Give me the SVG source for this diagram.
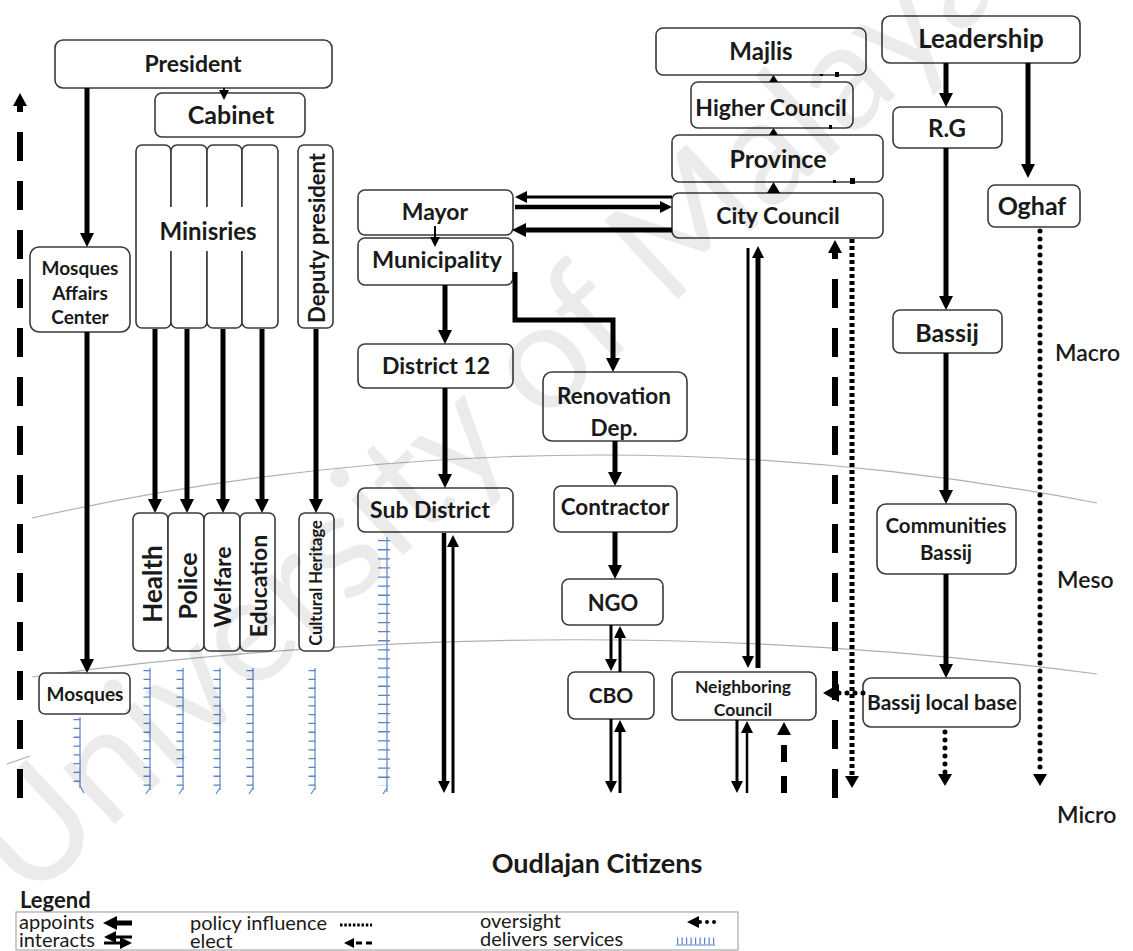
<svg xmlns="http://www.w3.org/2000/svg" width="1133" height="951" viewBox="0 0 1133 951">
  <style>
    .box{fill:#fff;stroke:#3a3a3a;stroke-width:1.6}
    .t{font-family:Lato,"Open Sans","DejaVu Sans",sans-serif;font-weight:700;fill:#1a1a1a;text-anchor:middle;dominant-baseline:central}
    .lvl{font-family:Lato,"Open Sans",sans-serif;font-weight:600;fill:#1a1a1a;font-size:23px}
    .lg{font-family:Lato,"Open Sans",sans-serif;font-weight:400;fill:#1a1a1a;font-size:20px}
    .band{fill:none;stroke:#b0b0b0;stroke-width:1.2}
    .appoint{stroke:#000;stroke-width:5;fill:none}
    .thin{stroke:#000;stroke-width:2;fill:none}
    .inter{stroke:#000;fill:none}
    .elect{stroke:#000;stroke-width:6;fill:none;stroke-dasharray:29 20}
    .policy{stroke:#000;stroke-width:5;fill:none;stroke-dasharray:4 3}
    .over{stroke:#000;stroke-width:5;fill:none;stroke-dasharray:0 8;stroke-linecap:round}
    .svc{stroke:#5a84c8;fill:none}
    .wm{font-family:Lato,"Open Sans",sans-serif;font-weight:400;font-size:150px;fill:#000;fill-opacity:0.08}
  </style>
  <defs>
    <marker id="mA" markerUnits="userSpaceOnUse" markerWidth="14" markerHeight="14" refX="6" refY="7" orient="auto-start-reverse">
      <path d="M0,0 L14,7 L0,14 z" fill="#000"/>
    </marker>
    <marker id="mS" markerUnits="userSpaceOnUse" markerWidth="10" markerHeight="10" refX="4" refY="5" orient="auto-start-reverse">
      <path d="M0,0 L10,5 L0,10 z" fill="#000"/>
    </marker>
    <marker id="mM" markerUnits="userSpaceOnUse" markerWidth="12" markerHeight="12" refX="5" refY="6" orient="auto-start-reverse">
      <path d="M0,0 L12,6 L0,12 z" fill="#000"/>
    </marker>
    <marker id="mE" markerUnits="userSpaceOnUse" markerWidth="13" markerHeight="14" refX="3" refY="7" orient="auto-start-reverse">
      <path d="M0,0 L13,7 L0,14 z" fill="#000"/>
    </marker>
    <marker id="mD" markerUnits="userSpaceOnUse" markerWidth="12" markerHeight="14" refX="1" refY="7" orient="auto-start-reverse">
      <path d="M0,0 L12,7 L0,14 z" fill="#000"/>
    </marker>
    <marker id="mO" markerUnits="userSpaceOnUse" markerWidth="16" markerHeight="18" refX="1" refY="9" orient="auto-start-reverse">
      <path d="M0,0 L16,9 L0,18 z" fill="#000"/>
    </marker>
  </defs>

  <rect width="1133" height="951" fill="#fff"/>

  <!-- level bands -->
  <g id="bands">
    <path class="band" d="M32,518 Q560,400 1097,503"/>
    <path class="band" d="M32,677 Q565,604 1097,674"/>
    <path class="band" d="M7,764 L30,756"/>
    <text class="lvl" x="1055" y="361">Macro</text>
    <text class="lvl" x="1057" y="588">Meso</text>
    <text class="lvl" x="1057" y="823">Micro</text>
  </g>

  <!-- national government -->
  <g id="president"><rect class="box" x="55" y="40" width="277" height="48" rx="8"/><text class="t" x="193" y="63" font-size="23">President</text></g>
  <g id="cabinet"><rect class="box" x="155" y="93" width="150" height="44" rx="7"/><text class="t" x="231" y="114" font-size="25">Cabinet</text></g>
  <g id="ministries">
    <rect class="box" x="136" y="145" width="35" height="183" rx="6"/>
    <rect class="box" x="171" y="145" width="36" height="183" rx="6"/>
    <rect class="box" x="207" y="145" width="35" height="183" rx="6"/>
    <rect class="box" x="242" y="145" width="36" height="183" rx="6"/>
    <rect x="140" y="207" width="134" height="44" fill="#fff"/>
    <text class="t" x="208" y="230" font-size="24">Minisries</text>
  </g>
  <g id="deputy-president"><rect class="box" x="298" y="145" width="35" height="183" rx="6"/><text class="t" transform="translate(316,238) rotate(-90)" font-size="22">Deputy president</text></g>
  <g id="mosques-affairs-center"><rect class="box" x="30" y="247" width="100" height="85" rx="9"/>
    <text class="t" x="80" y="267" font-size="19">Mosques</text>
    <text class="t" x="80" y="292" font-size="19">Affairs</text>
    <text class="t" x="80" y="316" font-size="19">Center</text>
  </g>
  <g id="health"><rect class="box" x="133" y="513" width="35" height="138" rx="6"/><text class="t" transform="translate(152,584) rotate(-90)" font-size="26">Health</text></g>
  <g id="police"><rect class="box" x="168" y="513" width="36" height="138" rx="6"/><text class="t" transform="translate(187,586) rotate(-90)" font-size="25">Police</text></g>
  <g id="welfare"><rect class="box" x="204" y="513" width="36" height="138" rx="6"/><text class="t" transform="translate(222,587) rotate(-90)" font-size="23">Welfare</text></g>
  <g id="education"><rect class="box" x="240" y="513" width="35" height="138" rx="6"/><text class="t" transform="translate(258,586) rotate(-90)" font-size="23">Education</text></g>
  <g id="cultural-heritage"><rect class="box" x="299" y="513" width="35" height="138" rx="6"/><text class="t" transform="translate(316,583) rotate(-90)" font-size="16.5">Cultural Heritage</text></g>
  <g id="mosques"><rect class="box" x="39" y="673" width="91" height="41" rx="6"/><text class="t" x="85" y="693" font-size="19">Mosques</text></g>

  <!-- municipal chain -->
  <g id="mayor"><rect class="box" x="358" y="190" width="155" height="45" rx="7"/><text class="t" x="435" y="211" font-size="23">Mayor</text></g>
  <g id="municipality"><rect class="box" x="358" y="238" width="155" height="47" rx="7"/><text class="t" x="437" y="259" font-size="23.5">Municipality</text></g>
  <g id="district-12"><rect class="box" x="358" y="344" width="155" height="44" rx="7"/><text class="t" x="436" y="365" font-size="23">District 12</text></g>
  <g id="sub-district"><rect class="box" x="358" y="488" width="155" height="44" rx="7"/><text class="t" x="430" y="509" font-size="23">Sub District</text></g>
  <g id="renovation-dep"><rect class="box" x="543" y="372" width="144" height="69" rx="9"/>
    <text class="t" x="614" y="395" font-size="22.5">Renovation</text>
    <text class="t" x="614" y="427" font-size="22.5">Dep.</text>
  </g>
  <g id="contractor"><rect class="box" x="554" y="486" width="123" height="46" rx="7"/><text class="t" x="615" y="506" font-size="22.5">Contractor</text></g>
  <g id="ngo"><rect class="box" x="562" y="579" width="101" height="46" rx="7"/><text class="t" x="613" y="602" font-size="22">NGO</text></g>
  <g id="cbo"><rect class="box" x="568" y="672" width="86" height="47" rx="7"/><text class="t" x="611" y="694" font-size="21">CBO</text></g>
  <g id="neighboring-council"><rect class="box" x="672" y="672" width="144" height="48" rx="7"/>
    <text class="t" x="743" y="686" font-size="17.5">Neighboring</text>
    <text class="t" x="743" y="709" font-size="17.5">Council</text>
  </g>

  <!-- legislative chain -->
  <g id="majlis"><rect class="box" x="656" y="28" width="210" height="47" rx="7"/><text class="t" x="761" y="50" font-size="24">Majlis</text></g>
  <g id="higher-council"><rect class="box" x="691" y="82" width="162" height="46" rx="7"/><text class="t" x="771" y="107" font-size="23">Higher Council</text></g>
  <g id="province"><rect class="box" x="672" y="135" width="211" height="47" rx="7"/><text class="t" x="778" y="158" font-size="25">Province</text></g>
  <g id="city-council"><rect class="box" x="672" y="193" width="211" height="45" rx="7"/><text class="t" x="778" y="215" font-size="23">City Council</text></g>

  <!-- leadership chain -->
  <g id="leadership"><rect class="box" x="882" y="16" width="198" height="47" rx="8"/><text class="t" x="981" y="38" font-size="26">Leadership</text></g>
  <g id="rg"><rect class="box" x="893" y="107" width="109" height="41" rx="7"/><text class="t" x="947" y="127" font-size="24">R.G</text></g>
  <g id="oghaf"><rect class="box" x="988" y="185" width="92" height="42" rx="7"/><text class="t" x="1032" y="205" font-size="25">Oghaf</text></g>
  <g id="bassij"><rect class="box" x="893" y="310" width="109" height="43" rx="7"/><text class="t" x="947" y="332" font-size="25">Bassij</text></g>
  <g id="communities-bassij"><rect class="box" x="877" y="504" width="139" height="70" rx="9"/>
    <text class="t" x="946" y="525" font-size="20.5">Communities</text>
    <text class="t" x="946" y="552" font-size="20.5">Bassij</text>
  </g>
  <g id="bassij-local-base"><rect class="box" x="863" y="678" width="157" height="49" rx="8"/><text class="t" x="942" y="701" font-size="21">Bassij local base</text></g>

  <g id="citizens"><text class="t" x="597" y="862" font-size="27">Oudlajan Citizens</text></g>

  <!-- connectors -->
  <g id="connectors">
    <!-- appoints -->
    <line class="appoint" x1="87" y1="88" x2="87" y2="239" marker-end="url(#mA)"/>
    <line class="appoint" x1="87" y1="332" x2="87" y2="665" marker-end="url(#mA)"/>
    <line class="appoint" x1="155" y1="329" x2="155" y2="505" marker-end="url(#mA)"/>
    <line class="appoint" x1="187" y1="329" x2="187" y2="505" marker-end="url(#mA)"/>
    <line class="appoint" x1="223" y1="329" x2="223" y2="505" marker-end="url(#mA)"/>
    <line class="appoint" x1="262" y1="329" x2="262" y2="505" marker-end="url(#mA)"/>
    <line class="appoint" x1="316" y1="329" x2="316" y2="505" marker-end="url(#mA)"/>
    <line class="thin" x1="224" y1="88" x2="224" y2="94" marker-end="url(#mS)"/>
    <line class="thin" x1="435" y1="226" x2="435" y2="241" marker-end="url(#mS)"/>
    <line class="appoint" x1="445" y1="285" x2="445" y2="336" marker-end="url(#mA)"/>
    <path class="appoint" d="M515,272 V320 H613 V364" marker-end="url(#mA)"/>
    <line class="appoint" x1="445" y1="388" x2="445" y2="480" marker-end="url(#mA)"/>
    <line class="appoint" x1="615" y1="441" x2="615" y2="478" marker-end="url(#mA)"/>
    <line class="appoint" x1="615" y1="532" x2="615" y2="571" marker-end="url(#mA)"/>
    <line class="appoint" x1="946" y1="63" x2="946" y2="99" marker-end="url(#mA)"/>
    <line class="appoint" x1="1028" y1="63" x2="1028" y2="170" marker-end="url(#mA)"/>
    <line class="appoint" x1="946" y1="148" x2="946" y2="302" marker-end="url(#mA)"/>
    <line class="appoint" x1="946" y1="353" x2="946" y2="496" marker-end="url(#mA)"/>
    <line class="appoint" x1="946" y1="574" x2="946" y2="670" marker-end="url(#mA)"/>
    <line class="appoint" x1="672" y1="230" x2="520" y2="230" marker-end="url(#mA)"/>

    <!-- interacts -->
    <line class="inter" stroke-width="3" x1="672" y1="197" x2="522" y2="197" marker-end="url(#mM)"/>
    <line class="inter" stroke-width="4.5" x1="515" y1="207" x2="665" y2="207" marker-end="url(#mM)"/>
    <line class="inter" stroke-width="4.5" x1="444" y1="533" x2="444" y2="786" marker-end="url(#mM)"/>
    <line class="inter" stroke-width="3" x1="453" y1="793" x2="453" y2="542" marker-end="url(#mM)"/>
    <line class="inter" stroke-width="3" x1="611" y1="625" x2="611" y2="664" marker-end="url(#mM)"/>
    <line class="inter" stroke-width="3" x1="620" y1="672" x2="620" y2="633" marker-end="url(#mM)"/>
    <line class="inter" stroke-width="3" x1="611" y1="719" x2="611" y2="786" marker-end="url(#mM)"/>
    <line class="inter" stroke-width="3" x1="620" y1="793" x2="620" y2="727" marker-end="url(#mM)"/>
    <line class="inter" stroke-width="3" x1="748" y1="248" x2="748" y2="661" marker-end="url(#mM)"/>
    <line class="inter" stroke-width="5" x1="758" y1="668" x2="758" y2="253" marker-end="url(#mM)"/>
    <line class="inter" stroke-width="3" x1="737" y1="720" x2="737" y2="786" marker-end="url(#mM)"/>
    <line class="inter" stroke-width="2.5" x1="747" y1="793" x2="747" y2="728" marker-end="url(#mM)"/>

    <!-- elect -->
    <line class="elect" x1="20" y1="798" x2="20" y2="103" marker-end="url(#mE)"/>
    <line class="elect" x1="835" y1="798" x2="835" y2="250" marker-end="url(#mE)"/>
    <line class="elect" x1="784" y1="793" x2="784" y2="732" style="stroke-dasharray:17 14" marker-end="url(#mE)"/>

    <!-- policy influence -->
    <line class="policy" x1="852" y1="239" x2="852" y2="777" marker-end="url(#mD)"/>
    <rect x="835" y="72" width="4" height="5" fill="#000"/>
    <rect x="820" y="74" width="3" height="2" fill="#000"/>
    <rect x="829" y="125" width="3" height="4" fill="#000"/>
    <rect x="833" y="180" width="3" height="3" fill="#000"/>
    <rect x="850" y="178" width="5" height="6" fill="#000"/>

    <!-- oversight -->
    <line class="over" x1="1040" y1="231" x2="1040" y2="775" marker-end="url(#mD)"/>
    <line class="over" x1="945" y1="732" x2="945" y2="775" marker-end="url(#mD)"/>
    <line class="over" x1="863" y1="693" x2="838" y2="693" marker-end="url(#mO)"/>

    <!-- upward chain between councils -->
    <polygon points="767,193 780,193 773.5,182" fill="#000"/>
    <polygon points="769,135 778,135 773.5,128" fill="#000"/>
    <polygon points="769,82 778,82 773.5,75" fill="#000"/>

    <!-- delivers services -->
    <g class="svc">
      <line x1="80" y1="717" x2="80" y2="788" stroke-width="1.2"/>
      <line x1="77" y1="719" x2="77" y2="786" stroke-width="7" stroke-dasharray="1.3 7.5"/>
      <path d="M80,786 l4,7" stroke-width="1.2"/>
      <line x1="150" y1="668" x2="150" y2="790" stroke-width="1.2"/>
      <line x1="147" y1="670" x2="147" y2="788" stroke-width="7" stroke-dasharray="1.3 7.5"/>
      <path d="M150,788 l-4,6" stroke-width="1.2"/>
      <line x1="183" y1="668" x2="183" y2="790" stroke-width="1.2"/>
      <line x1="180" y1="670" x2="180" y2="788" stroke-width="7" stroke-dasharray="1.3 7.5"/>
      <path d="M183,788 l-4,6" stroke-width="1.2"/>
      <line x1="220" y1="668" x2="220" y2="790" stroke-width="1.2"/>
      <line x1="217" y1="670" x2="217" y2="788" stroke-width="7" stroke-dasharray="1.3 7.5"/>
      <path d="M220,788 l-4,6" stroke-width="1.2"/>
      <line x1="253" y1="668" x2="253" y2="790" stroke-width="1.2"/>
      <line x1="250" y1="670" x2="250" y2="788" stroke-width="7" stroke-dasharray="1.3 7.5"/>
      <path d="M253,788 l-4,6" stroke-width="1.2"/>
      <line x1="315" y1="668" x2="315" y2="790" stroke-width="1.2"/>
      <line x1="312" y1="670" x2="312" y2="788" stroke-width="7" stroke-dasharray="1.3 7.5"/>
      <path d="M315,788 l-4,6" stroke-width="1.2"/>
      <line x1="387" y1="537" x2="387" y2="792" stroke-width="1.2"/>
      <line x1="384" y1="540" x2="384" y2="786" stroke-width="12" stroke-dasharray="1.3 7.8"/>
      <path d="M387,788 l-4,6" stroke-width="1.2"/>
    </g>
  </g>

  <!-- legend -->
  <g id="legend">
    <text class="t" x="20" y="899" font-size="22" style="text-anchor:start">Legend</text>
    <rect x="16" y="912" width="722" height="38" fill="none" stroke="#a8a8a8" stroke-width="1.2"/>
    <text class="lg" x="19" y="929">appoints</text>
    <line class="appoint" x1="132" y1="923" x2="111" y2="923" marker-end="url(#mA)"/>
    <text class="lg" x="19" y="947">interacts</text>
    <line class="inter" stroke-width="3" x1="132" y1="937" x2="111" y2="937" marker-end="url(#mM)"/>
    <line class="inter" stroke-width="3" x1="104" y1="943" x2="125" y2="943" marker-end="url(#mM)"/>
    <text class="lg" x="190" y="930">policy influence</text>
    <line x1="340" y1="925" x2="372" y2="925" stroke="#000" stroke-width="3" stroke-dasharray="2.5 1.8"/>
    <text class="lg" x="190" y="948">elect</text>
    <line x1="372" y1="943" x2="350" y2="943" stroke="#000" stroke-width="3" stroke-dasharray="6 4" marker-end="url(#mS)"/>
    <text class="lg" x="480" y="928">oversight</text>
    <line class="over" x1="714" y1="922" x2="694" y2="922" style="stroke-width:4;stroke-dasharray:0 7" marker-end="url(#mM)"/>
    <text class="lg" x="480" y="946">delivers services</text>
    <line x1="676" y1="945" x2="715" y2="945" stroke="#5a84c8" stroke-width="1.2"/>
    <line x1="677" y1="941" x2="715" y2="941" stroke="#5a84c8" stroke-width="7" stroke-dasharray="1.2 3.3"/>
  </g>

  <!-- watermark -->
  <g id="watermark">
    <text class="wm" transform="translate(28,905) rotate(-43)">University of Malaya</text>
  </g>
</svg>
